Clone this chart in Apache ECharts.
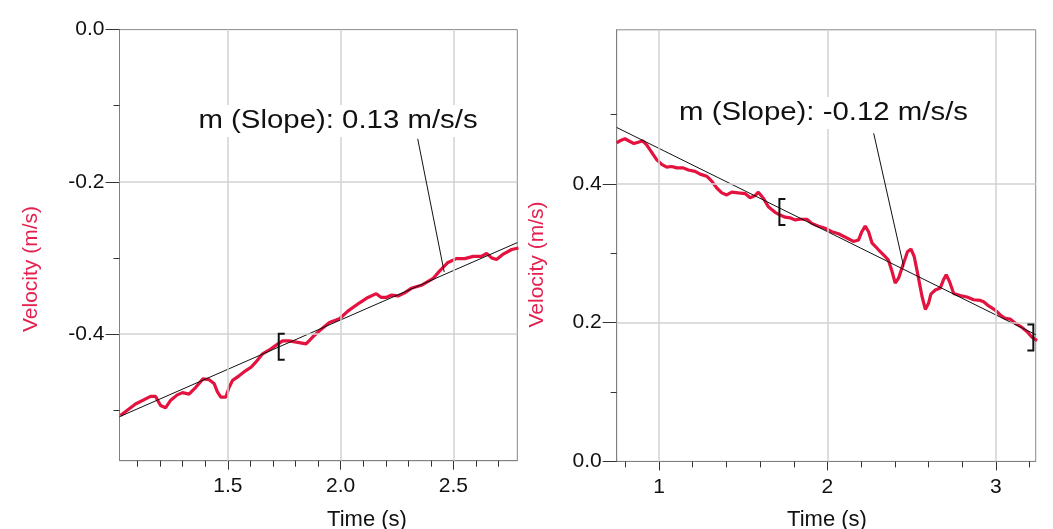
<!DOCTYPE html>
<html>
<head>
<meta charset="utf-8">
<script src="https://cdn.jsdelivr.net/npm/echarts@6/dist/echarts.min.js"></script>
<style>
html,body{margin:0;padding:0;background:#fff;}
#chart{width:1053px;height:529px;}
</style>
</head>
<body>
<div id="chart"></div>
<script>
// ---------- Left panel data ----------
const leftTime = [1.024,1.091,1.158,1.180,1.202,1.224,1.247,1.276,1.299,1.328,1.358,1.390,1.417,1.439,1.454,1.469,1.491,1.506,1.521,1.550,1.580,1.602,1.624,1.654,1.684,1.713,1.743,1.772,1.810,1.847,1.876,1.913,1.950,1.995,2.032,2.084,2.121,2.158,2.180,2.202,2.224,2.254,2.284,2.313,2.358,2.410,2.439,2.476,2.513,2.550,2.588,2.624,2.647,2.669,2.691,2.721,2.758,2.788];
const leftVel = [-0.507,-0.492,-0.482,-0.482,-0.494,-0.497,-0.487,-0.480,-0.477,-0.479,-0.470,-0.459,-0.460,-0.465,-0.476,-0.483,-0.483,-0.470,-0.461,-0.455,-0.448,-0.444,-0.437,-0.426,-0.421,-0.415,-0.409,-0.409,-0.411,-0.413,-0.404,-0.394,-0.385,-0.380,-0.370,-0.359,-0.352,-0.347,-0.352,-0.352,-0.349,-0.350,-0.346,-0.340,-0.336,-0.327,-0.317,-0.306,-0.301,-0.301,-0.298,-0.298,-0.294,-0.300,-0.302,-0.295,-0.289,-0.287];
const leftFitTime = [1.02, 2.783];
const leftFitVel = [-0.5087, -0.2799];
const leftSlope = 0.13;
const leftLeaderEnd = [2.459, -0.3185];
const leftBrackets = [[1.7257, -0.4167, 1]];
const leftXLabels = [1.5, 2.0, 2.5];
const leftXMinor = [1.1,1.2,1.3,1.4,1.6,1.7,1.8,1.9,2.1,2.2,2.3,2.4,2.6,2.7];
const leftYLabels = [0.0, -0.2, -0.4];
const leftYMinor = [-0.1, -0.3, -0.5];

// ---------- Right panel data ----------
const rightTime = [0.749,0.768,0.798,0.828,0.851,0.877,0.903,0.927,0.947,0.966,0.986,1.016,1.046,1.075,1.105,1.144,1.174,1.214,1.244,1.283,1.313,1.343,1.373,1.402,1.432,1.471,1.511,1.541,1.570,1.590,1.620,1.649,1.689,1.719,1.749,1.778,1.808,1.838,1.878,1.907,1.947,1.986,2.026,2.065,2.115,2.154,2.184,2.204,2.224,2.244,2.264,2.303,2.343,2.362,2.383,2.402,2.422,2.452,2.475,2.496,2.515,2.535,2.561,2.581,2.600,2.614,2.640,2.670,2.689,2.705,2.725,2.749,2.788,2.828,2.868,2.907,2.927,2.957,2.996,3.026,3.056,3.086,3.115,3.155,3.185,3.214,3.244];
const rightVel = [0.459,0.462,0.465,0.461,0.458,0.460,0.462,0.456,0.449,0.442,0.435,0.428,0.424,0.425,0.423,0.423,0.420,0.418,0.414,0.411,0.404,0.394,0.387,0.384,0.388,0.387,0.386,0.380,0.383,0.388,0.379,0.367,0.359,0.355,0.352,0.351,0.348,0.349,0.349,0.343,0.339,0.336,0.331,0.328,0.322,0.317,0.319,0.331,0.339,0.331,0.315,0.305,0.295,0.290,0.274,0.257,0.264,0.286,0.302,0.306,0.295,0.271,0.238,0.219,0.228,0.241,0.247,0.250,0.262,0.269,0.259,0.242,0.239,0.237,0.233,0.232,0.230,0.224,0.218,0.211,0.206,0.205,0.199,0.193,0.187,0.179,0.174];
const rightFitTime = [0.749, 3.236];
const rightFitVel = [0.4812, 0.1827];
const rightSlope = -0.12;
const rightLeaderEnd = [2.453, 0.280];
const rightBrackets = [[1.7148, 0.3596, 1], [3.222, 0.1787, -1]];
const rightXLabels = [1, 2, 3];
const rightXMinor = [0.8,1.2,1.4,1.6,1.8,2.2,2.4,2.6,2.8,3.2];
const rightYLabels = [0.0, 0.2, 0.4];
const rightYMinor = [0.1, 0.3, 0.5];

const zip = (a, b) => a.map((v, i) => [v, b[i]]);

const RED = '#e3123f';
const LABEL_RED = '#e4204f';
const FONT = '"Liberation Sans", Arial, sans-serif';
const GRIDLINE = '#d2d2d2';

function majorX(grid, min, max, vals, fmt) {
  return {
    type: 'value', gridIndex: grid, min: min, max: max, position: 'bottom',
    axisLine: {show: true, onZero: false, lineStyle: {color: '#808080', width: 1}},
    axisTick: {show: true, customValues: vals, length: 9, lineStyle: {color: '#333'}},
    axisLabel: {show: true, customValues: vals, formatter: fmt, fontSize: 21, fontFamily: FONT, color: '#111', margin: 15},
    splitLine: {show: false}
  };
}
function minorX(grid, min, max, vals) {
  return {
    type: 'value', gridIndex: grid, min: min, max: max, position: 'bottom', offset: 0,
    axisLine: {show: false, onZero: false},
    axisTick: {show: true, customValues: vals, length: 6, lineStyle: {color: '#333'}},
    axisLabel: {show: false},
    splitLine: {show: false}
  };
}
function majorY(grid, min, max, vals) {
  return {
    type: 'value', gridIndex: grid, min: min, max: max, position: 'left',
    axisLine: {show: true, onZero: false, lineStyle: {color: '#808080', width: 1}},
    axisTick: {show: true, customValues: vals, length: 14, lineStyle: {color: '#333'}},
    axisLabel: {show: true, customValues: vals, formatter: v => v.toFixed(1), fontSize: 21, fontFamily: FONT, color: '#111', margin: 15},
    splitLine: {show: false}
  };
}
function minorY(grid, min, max, vals) {
  return {
    type: 'value', gridIndex: grid, min: min, max: max, position: 'left', offset: 0,
    axisLine: {show: false, onZero: false},
    axisTick: {show: true, customValues: vals, length: 6, lineStyle: {color: '#333'}},
    axisLabel: {show: false},
    splitLine: {show: false}
  };
}

function gridLines(axisIdx, xs, ys) {
  return {
    type: 'line', xAxisIndex: axisIdx, yAxisIndex: axisIdx, data: [], z: 1, silent: true,
    markLine: {
      silent: true, symbol: 'none', animation: false,
      label: {show: false},
      lineStyle: {color: GRIDLINE, type: 'solid', width: 1.5},
      data: xs.map(v => ({xAxis: v})).concat(ys.map(v => ({yAxis: v})))
    }
  };
}

function annotation(axisIdx, endPt, text, textX, textY, startX, startY) {
  return {
    type: 'custom', xAxisIndex: axisIdx, yAxisIndex: axisIdx, z: 10, silent: true,
    data: [endPt],
    renderItem: (params, api) => {
      const p = api.coord([api.value(0), api.value(1)]);
      return {
        type: 'group',
        children: [
          {type: 'line', shape: {x1: startX, y1: startY, x2: p[0], y2: p[1]}, style: {stroke: '#111', lineWidth: 1}},
          {type: 'text', x: textX, y: textY, scaleX: 1.13,
           style: {text: text, fontSize: 26, fontFamily: FONT, fill: '#111', align: 'center', verticalAlign: 'middle',
                   backgroundColor: '#fff', padding: [3, 3]}}
        ]
      };
    }
  };
}

function brackets(axisIdx, data) {
  return {
    type: 'custom', xAxisIndex: axisIdx, yAxisIndex: axisIdx, z: 9, silent: true,
    data: data,
    renderItem: (params, api) => {
      const p = api.coord([api.value(0), api.value(1)]);
      const d = api.value(2);
      const h = 13, w = 6 * d;
      return {
        type: 'polyline',
        shape: {points: [[p[0] + w, p[1] - h], [p[0], p[1] - h], [p[0], p[1] + h], [p[0] + w, p[1] + h]]},
        style: {stroke: '#111', lineWidth: 2, fill: 'none'}
      };
    }
  };
}

const slopeText = s => 'm (Slope): ' + s.toFixed(2) + ' m/s/s';

const option = {
  animation: false,
  backgroundColor: '#ffffff',
  grid: [
    {left: 119.5, top: 29.6, width: 397.8, height: 431.1, show: true, borderColor: '#8a8a8a', borderWidth: 1, backgroundColor: 'transparent'},
    {left: 616.7, top: 29.8, width: 419, height: 431.6, show: true, borderColor: '#8a8a8a', borderWidth: 1, backgroundColor: 'transparent'}
  ],
  xAxis: [
    majorX(0, 1.02, 2.783, leftXLabels, v => v.toFixed(1)),
    majorX(1, 0.749, 3.236, rightXLabels, v => String(Math.round(v))),
    minorX(0, 1.02, 2.783, leftXMinor),
    minorX(1, 0.749, 3.236, rightXMinor)
  ],
  yAxis: [
    majorY(0, -0.5665, 0, leftYLabels),
    majorY(1, 0, 0.622, rightYLabels),
    minorY(0, -0.5665, 0, leftYMinor),
    minorY(1, 0, 0.622, rightYMinor)
  ],
  graphic: [
    {type: 'text', x: 367, y: 520, style: {text: 'Time (s)', fontSize: 22, fontFamily: FONT, fill: '#111', align: 'center', verticalAlign: 'middle'}},
    {type: 'text', x: 827, y: 520, style: {text: 'Time (s)', fontSize: 22, fontFamily: FONT, fill: '#111', align: 'center', verticalAlign: 'middle'}},
    {type: 'text', x: 31, y: 269, rotation: Math.PI / 2, style: {text: 'Velocity (m/s)', fontSize: 21, fontFamily: FONT, fill: LABEL_RED, align: 'center', verticalAlign: 'middle'}},
    {type: 'text', x: 537.5, y: 264.5, rotation: Math.PI / 2, style: {text: 'Velocity (m/s)', fontSize: 21, fontFamily: FONT, fill: LABEL_RED, align: 'center', verticalAlign: 'middle'}}
  ],
  series: [
    gridLines(0, leftXLabels, [-0.2, -0.4]),
    gridLines(1, rightXLabels, [0.2, 0.4]),
    {type: 'line', xAxisIndex: 0, yAxisIndex: 0, data: zip(leftTime, leftVel), showSymbol: false, symbol: 'none', smooth: false, z: 3,
     lineStyle: {color: RED, width: 3.2}},
    {type: 'line', xAxisIndex: 1, yAxisIndex: 1, data: zip(rightTime, rightVel), showSymbol: false, symbol: 'none', smooth: false, z: 3,
     lineStyle: {color: RED, width: 3.2}},
    {type: 'line', xAxisIndex: 0, yAxisIndex: 0, data: zip(leftFitTime, leftFitVel), showSymbol: false, symbol: 'none', z: 4,
     lineStyle: {color: '#111', width: 1}},
    {type: 'line', xAxisIndex: 1, yAxisIndex: 1, data: zip(rightFitTime, rightFitVel), showSymbol: false, symbol: 'none', z: 4,
     lineStyle: {color: '#111', width: 1}},
    brackets(0, leftBrackets),
    brackets(1, rightBrackets),
    annotation(0, leftLeaderEnd, slopeText(leftSlope), 338, 121, 417.7, 138.8),
    annotation(1, rightLeaderEnd, slopeText(rightSlope), 823.5, 113, 873.7, 133.3)
  ]
};

const chart = echarts.init(document.getElementById('chart'), null, {renderer: 'canvas'});
chart.setOption(option);
</script>
</body>
</html>
